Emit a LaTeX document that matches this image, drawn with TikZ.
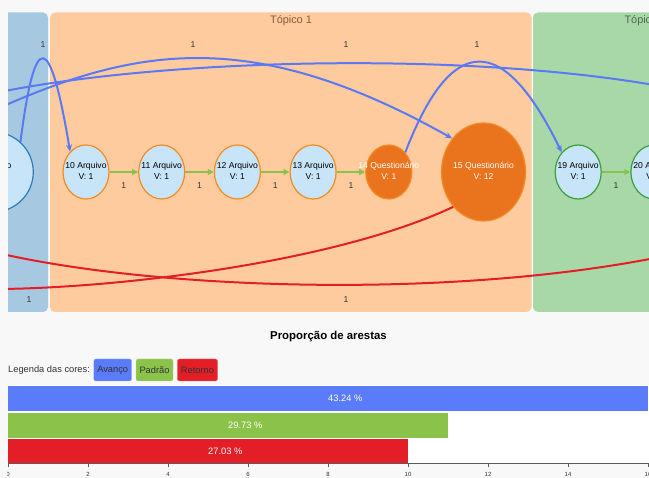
\documentclass[tikz,border=0pt]{standalone}
\usepackage{fontspec}
\setmainfont{Liberation Sans}
\usepackage{xcolor}
\usetikzlibrary{arrows.meta,positioning,shapes.geometric}

\definecolor{fundo}{HTML}{F8F8F8}
\definecolor{painelazul}{HTML}{A6C8E1}
\definecolor{painellaranja}{HTML}{FDCB9E}
\definecolor{painelverde}{HTML}{A8D8A8}
\definecolor{azulclaro}{HTML}{C8E4F8}
\definecolor{laranja}{HTML}{F28C22}
\definecolor{laranjaesc}{HTML}{EA731D}
\definecolor{azulborda}{HTML}{2B7BB9}
\definecolor{verdeborda}{HTML}{3A9E3A}
\definecolor{azularesta}{HTML}{5B79F4}
\definecolor{verdearesta}{HTML}{8BC34A}
\definecolor{vermelho}{HTML}{E41E26}
\definecolor{barazul}{HTML}{5A7BFA}
\definecolor{cinzaesc}{HTML}{333333}
\definecolor{topico}{HTML}{8C5A35}
\definecolor{topicoverde}{HTML}{4A6A4A}

\newcommand{\rotulo}[2]{\makebox[0pt]{\begin{tabular}{@{}c@{}}#1\\#2\end{tabular}}}

\begin{document}
\begin{tikzpicture}[x=1pt, y=-1pt, node distance=28.5pt,
  every node/.style={font=\fontsize{8.6}{10.5}\selectfont},
  vert/.style={ellipse, draw=laranja, line width=1.2pt, fill=azulclaro, inner sep=0pt, minimum width=46pt, minimum height=54pt},
  quest/.style={vert, fill=laranjaesc, text=white},
  avanco/.style={draw=azularesta, line width=2pt, -{Stealth[length=7pt,width=6pt]}},
  padrao/.style={draw=verdearesta, line width=2pt, -{Triangle[length=6pt,width=6pt]}},
  retorno/.style={draw=vermelho, line width=2pt, -{Stealth[length=7pt,width=6pt]}},
  elabel/.style={text=cinzaesc, inner sep=2pt},
  legenda/.style={rounded corners=2pt, minimum height=22pt, inner xsep=3.5pt, text=cinzaesc, font=\fontsize{9.3}{11}\selectfont},
  barlabel/.style={anchor=west, inner sep=0pt, text=white, font=\fontsize{9.3}{11}\selectfont}]

\fill[fundo] (0,0) rectangle (649,478);
\useasboundingbox (0,0) rectangle (649,478);

% grafo
\begin{scope}
\clip (8,12) rectangle (649,312);
\fill[painelazul, rounded corners=5pt] (-20,12.5) rectangle (48,312);
\fill[painellaranja, rounded corners=5pt] (50,12.5) rectangle (531.5,312);
\fill[painelverde, rounded corners=5pt] (533,12.5) rectangle (700,312);
\node[text=topico, font=\fontsize{10.9}{12}\selectfont] (t1) at (291,21) {Tópico 1};
\node[text=topicoverde, font=\fontsize{10.9}{12}\selectfont, anchor=west] (t2) at (621,21) {Tópico 2};

\node[vert] (n10) at (86,172) {\rotulo{10 Arquivo}{V: 1}};
\node[vert, right=of n10] (n11) {\rotulo{11 Arquivo}{V: 1}};
\node[vert, right=of n11] (n12) {\rotulo{12 Arquivo}{V: 1}};
\node[vert, right=of n12] (n13) {\rotulo{13 Arquivo}{V: 1}};
\node[quest, right=of n13] (n14) {\rotulo{14 Questionário}{V: 1}};
\node[quest, minimum width=84pt, minimum height=98pt, right=of n14] (n15) {\rotulo{15 Questionário}{V: 12}};
\node[vert, draw=verdeborda, right=of n15] (n19) {\rotulo{19 Arquivo}{V: 1}};
\node[vert, draw=verdeborda, right=of n19] (n20) {\rotulo{20 Arquivo}{V: 1}};
\node[vert, draw=azulborda, minimum size=80pt, left=of n10] (n9) {\rotulo{9 Arquivo}{V: 3}};

\coordinate (ia) at (-10,112);
\coordinate (ib) at (-10,94);
\coordinate (fb) at (660,86);
\coordinate (fr1) at (-20,289);
\coordinate (ir2) at (665,256);
\coordinate (fr2) at (-15,250);

\draw[padrao] (n10) -- node[elabel, below=8pt] (p1) {1} (n11);
\draw[padrao] (n11) -- node[elabel, below=8pt] (p2) {1} (n12);
\draw[padrao] (n12) -- node[elabel, below=8pt] (p3) {1} (n13);
\draw[padrao] (n13) -- node[elabel, below=8pt] (p4) {1} (n14);
\draw[padrao] (n19) -- node[elabel, below=8pt] (p5) {1} (n20);

\draw[avanco] (n9.48) .. controls (35,28) and (50,31) .. (n10.128);
\draw[avanco] (ia) .. controls (130,49) and (247,23) .. (n15.133);
\draw[avanco] (ib) .. controls (150,60) and (450,50) .. (fb);
\draw[avanco] (n14.50) .. controls (451.7,31.7) and (503.3,32.3) .. (n19.130);
\draw[retorno] (n15.229) .. controls (330,265) and (100,290) .. (fr1);
\draw[retorno] (ir2) .. controls (450,300) and (150,290) .. (fr2);

\node[elabel] (a1) at (43,45) {1};
\node[elabel] (a2) at (193,45) {1};
\node[elabel] (a3) at (346,45) {1};
\node[elabel] (a4) at (477,45) {1};
\node[elabel] (r1) at (29,300) {1};
\node[elabel] (r2) at (346,300) {1};
\end{scope}

% grafico de barras
\node[font=\bfseries\fontsize{11.4}{13}\selectfont] (titulo) at (328.5,337) {Proporção de arestas};
\node[anchor=west, inner sep=0pt, text=cinzaesc, font=\fontsize{9.3}{11}\selectfont] (leg) at (8,370) {Legenda das cores:};
\node[legenda, fill=barazul, draw=barazul!60!white, right=3.5pt of leg] (lav) {Avanço};
\node[legenda, fill=verdearesta, draw=verdearesta!60!white, right=4pt of lav] (lpa) {Padrão};
\node[legenda, fill=vermelho, draw=vermelho!60!white, right=4pt of lpa] (lre) {Retorno};

\fill[white] (8,385) rectangle (649,464);
\fill[barazul] (8,386) rectangle (648,411);
\fill[verdearesta] (8,413) rectangle (448,438);
\fill[vermelho] (8,439.5) rectangle (408,464);
\node[barlabel] (b1) at (328,398.5) {43.24 \%};
\node[barlabel] (b2) at (228,425.5) {29.73 \%};
\node[barlabel] (b3) at (208,451.5) {27.03 \%};

\draw[cinzaesc!80, line width=1pt] (8,464) -- (649,464);
\begin{scope}
\clip (7.5,460) rectangle (649,478);
\foreach \v in {0,2,...,16} {
  \draw[cinzaesc!80, line width=0.8pt] (8+40*\v,464) -- ++(0,3.5);
  \node[inner sep=0pt, text=cinzaesc, font=\fontsize{6}{7}\selectfont] (tk\v) at (8+40*\v,474.5) {\v};
}
\end{scope}
\end{tikzpicture}
\end{document}
